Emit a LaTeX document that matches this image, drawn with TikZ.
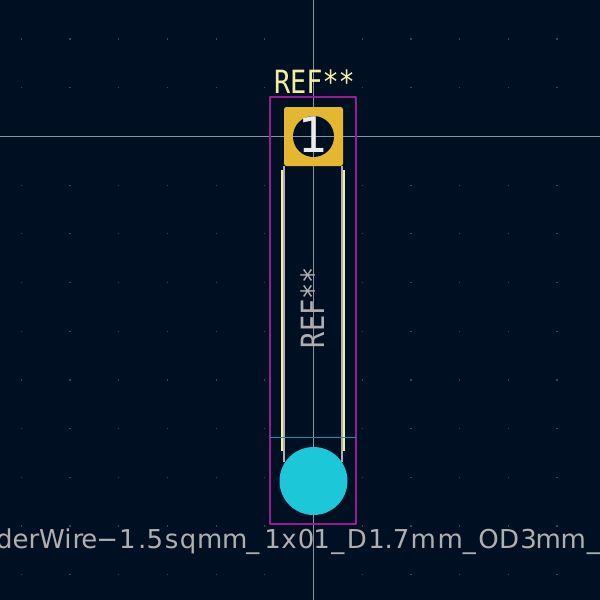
\documentclass[tikz,border=0pt]{standalone}
\usepackage{fontspec}
\setmainfont{DejaVu Sans}
\newfontfamily\monof{DejaVu Sans Mono}
\definecolor{bgc}{HTML}{001023}
\definecolor{gridc}{HTML}{3A4656}
\definecolor{axisc}{HTML}{8E949B}
\definecolor{silkc}{HTML}{F2EDA1}
\definecolor{fabc}{HTML}{AFAFAF}
\definecolor{crtc}{HTML}{A0188F}
\definecolor{padc}{HTML}{E3B72F}
\definecolor{cyanc}{HTML}{1CC8D8}
\definecolor{thinc}{HTML}{1594A8}
\newcommand{\ks}[1]{\kern#1pt\relax}
\tikzset{
  px/.style={x=1pt,y=-1pt},
  silk/.style={draw=silkc,line width=2.7pt},
  fab/.style={draw=fabc,line width=2.2pt},
  crt/.style={draw=crtc,line width=1.3pt},
  lbl/.style={inner sep=0pt,outer sep=0pt,text=fabc},
}
\begin{document}
\begin{tikzpicture}[px]
\useasboundingbox (0,0) rectangle (600,600);
\fill[bgc] (0,0) rectangle (600,600);
\clip (0,0) rectangle (600,600);
% grid
\foreach \i in {0,...,12}{\foreach \j in {0,...,12}{
  \fill[gridc] ({21.3+48.7*\i-0.6},{39+48.7*\j-0.6}) rectangle ++(1.2,1.2);
}}
% axes
\draw[axisc,line width=0.7pt] (313.5,0) -- (313.5,600);
\draw[axisc,line width=0.7pt] (0,136) -- (600,136);
% fab
\draw[fab] (284.2,166) -- (284.2,462);
\draw[fab] (342,166) -- (342,462);
% silk
\draw[silk] (282,170) -- (282,450.7);
\draw[silk] (344,170) -- (344,450.7);
% courtyard
\draw[crt,line join=round] (270,97) rectangle (356,524);
\draw[thinc,line width=1.5pt] (270,437.5) -- (356,437.5);
% pad
\fill[padc,rounded corners=2.5pt] (284,107) rectangle (343,166);
\fill[bgc] (313.5,136.5) circle (20.5);
\draw[axisc,line width=0.7pt] (313.5,116) -- (313.5,157);
\draw[axisc,line width=0.7pt] (293,136) -- (334,136);
\node[lbl,text=white!92!black,font=\fontsize{49}{49}\selectfont,anchor=base,xscale=0.95] (padnum) at (313,152) {1};
% hole
\fill[cyanc] (313.5,481) circle (34);
% texts
\node[lbl,text=silkc,font=\monof\fontsize{32}{32}\selectfont,anchor=base west,xscale=0.84] (ref) at (274,93) {REF**};
\node[lbl,font=\monof\fontsize{32}{32}\selectfont,anchor=base west,rotate=90,xscale=0.84] (fabref) at (324,348) {REF**};
\node[lbl,font=\fontsize{26}{26}\selectfont,anchor=base west] (name) at (-4,548) {derWi\ks{1}r\ks{-2}e\ks{-1}−\ks{1.2}1\ks{2.5}.\ks{0.2}5\ks{1.6}s\ks{1.5}q\ks{0.6}m\ks{-0.3}m\ks{-1}\_\ks{5}1\ks{0.5}x\ks{1.1}0\ks{-1}1\ks{1.5}\_\ks{2.4}D\ks{1.6}1\ks{-0.5}.\ks{0.2}7\ks{1.2}m\ks{1.5}m\_\ks{2.5}O\ks{0.4}D\ks{1.1}3\ks{-1.3}m\ks{-0.3}m\ks{1}\_};
\end{tikzpicture}
\end{document}
